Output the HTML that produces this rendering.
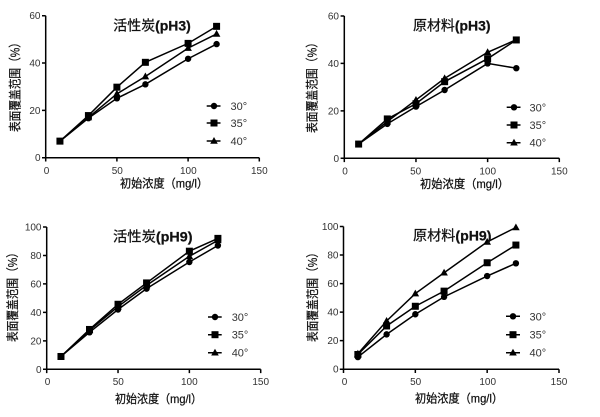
<!DOCTYPE html>
<html><head><meta charset="utf-8"><style>
html,body{margin:0;padding:0;background:#fff;}
svg{display:block;}
.tk{font-family:"Liberation Sans",Arial,sans-serif;font-size:10px;fill:#333;}
.lg{font-family:"Liberation Sans",Arial,sans-serif;font-size:11px;fill:#333;}
.cj{font-family:"Liberation Sans","Noto Sans CJK SC",sans-serif;fill:#111;stroke:#111;stroke-width:0.25px;}
</style></head><body>
<svg width="600" height="417" viewBox="0 0 600 417" xmlns="http://www.w3.org/2000/svg">
<defs>
<circle id="c" r="3.2" fill="#000"/>
<rect id="s" x="-3.5" y="-3.5" width="7" height="7" fill="#000"/>
<polygon id="t" points="0,-4 3.8,2.8 -3.8,2.8" fill="#000"/>
</defs>
<rect width="600" height="417" fill="#fff"/>

<!-- Panel 1 -->
<g stroke="#000" stroke-width="1.5" fill="none">
<path d="M45.7,15.7V157.7H259.3"/>
<path d="M42,157.7H45.7M42,110.4H45.7M42,63H45.7M42,15.7H45.7"/>
<path d="M45.7,157.7V161.5M116.9,157.7V161.5M188.1,157.7V161.5M259.3,157.7V161.5"/>
<polyline points="59.94,141.13 88.42,118.18 116.9,98.3 145.38,84.33 188.1,58.77 216.58,44.1"/>
<polyline points="59.94,141.13 88.42,115.57 116.9,87.17 145.38,62.32 188.1,43.39 216.58,26.35"/>
<polyline points="59.94,141.13 88.42,117.47 116.9,93.8 145.38,76.52 188.1,48.12 216.58,33.92"/>
<path d="M206.7,106H220.5M206.7,123H220.5M206.7,141H220.5"/>
</g>
<g>
<use href="#c" x="59.94" y="141.13"/><use href="#c" x="88.42" y="118.18"/><use href="#c" x="116.9" y="98.3"/><use href="#c" x="145.38" y="84.33"/><use href="#c" x="188.1" y="58.77"/><use href="#c" x="216.58" y="44.1"/>
<use href="#s" x="59.94" y="141.13"/><use href="#s" x="88.42" y="115.57"/><use href="#s" x="116.9" y="87.17"/><use href="#s" x="145.38" y="62.32"/><use href="#s" x="188.1" y="43.39"/><use href="#s" x="216.58" y="26.35"/>
<use href="#t" x="88.42" y="117.47"/><use href="#t" x="116.9" y="93.8"/><use href="#t" x="145.38" y="76.52"/><use href="#t" x="188.1" y="48.12"/><use href="#t" x="216.58" y="33.92"/>
<use href="#c" x="214" y="106"/><use href="#s" x="214" y="123"/><use href="#t" x="214" y="141"/>
</g>
<g class="tk" text-anchor="end">
<text x="40.5" y="161.2">0</text><text x="40.5" y="113.9">20</text><text x="40.5" y="66.5">40</text><text x="40.5" y="19.2">60</text>
</g>
<g class="tk" text-anchor="middle">
<text x="46.5" y="173.8">0</text><text x="117.3" y="173.8">50</text><text x="188.3" y="173.8">100</text><text x="259.3" y="173.8">150</text>
</g>
<g class="lg"><text x="230.5" y="110">30°</text><text x="230.5" y="127">35°</text><text x="230.5" y="145">40°</text></g>
<text class="cj" x="113.3" y="30.5" font-size="14" textLength="77.5" lengthAdjust="spacingAndGlyphs">活性炭<tspan font-weight="bold">(pH3)</tspan></text>
<text class="cj" x="120" y="187.5" font-size="12" textLength="88" lengthAdjust="spacingAndGlyphs">初始浓度（mg/l）</text>
<text class="cj" transform="translate(19.5,132) rotate(-90)" x="0" y="0" font-size="12.5" textLength="95" lengthAdjust="spacingAndGlyphs">表面覆盖范围（%）</text>

<!-- Panel 2 -->
<g stroke="#000" stroke-width="1.5" fill="none">
<path d="M344.3,16V158.3H559.3"/>
<path d="M340.6,158.3H344.3M340.6,110.87H344.3M340.6,63.43H344.3M340.6,16H344.3"/>
<path d="M344.3,158.3V162.1M415.97,158.3V162.1M487.63,158.3V162.1M559.3,158.3V162.1"/>
<polyline points="358.63,144.07 387.3,123.91 415.97,106.6 444.63,90 487.63,63.43 516.3,68.18"/>
<polyline points="358.63,144.07 387.3,118.93 415.97,103.75 444.63,81.69 487.63,58.69 516.3,39.95"/>
<polyline points="358.63,144.07 387.3,121.54 415.97,99.96 444.63,78.37 487.63,52.29 516.3,39.72"/>
<path d="M506.7,107.3H520.5M506.7,125H520.5M506.7,142.7H520.5"/>
</g>
<g>
<use href="#c" x="358.63" y="144.07"/><use href="#c" x="387.3" y="123.91"/><use href="#c" x="415.97" y="106.6"/><use href="#c" x="444.63" y="90"/><use href="#c" x="487.63" y="63.43"/><use href="#c" x="516.3" y="68.18"/>
<use href="#s" x="358.63" y="144.07"/><use href="#s" x="387.3" y="118.93"/><use href="#s" x="415.97" y="103.75"/><use href="#s" x="444.63" y="81.69"/><use href="#s" x="487.63" y="58.69"/><use href="#s" x="516.3" y="39.95"/>
<use href="#t" x="387.3" y="121.54"/><use href="#t" x="415.97" y="99.96"/><use href="#t" x="444.63" y="78.37"/><use href="#t" x="487.63" y="52.29"/>
<use href="#c" x="514" y="107.3"/><use href="#s" x="514" y="125"/><use href="#t" x="514" y="142.7"/>
</g>
<g class="tk" text-anchor="end">
<text x="339" y="161.8">0</text><text x="339" y="114.4">20</text><text x="339" y="66.9">40</text><text x="339" y="19.5">60</text>
</g>
<g class="tk" text-anchor="middle">
<text x="345" y="174.3">0</text><text x="415.7" y="174.3">50</text><text x="487.7" y="174.3">100</text><text x="559.3" y="174.3">150</text>
</g>
<g class="lg"><text x="529.5" y="111.3">30°</text><text x="529.5" y="129">35°</text><text x="529.5" y="146.7">40°</text></g>
<text class="cj" x="413" y="30.5" font-size="14" textLength="77.5" lengthAdjust="spacingAndGlyphs">原材料<tspan font-weight="bold">(pH3)</tspan></text>
<text class="cj" x="420" y="187.8" font-size="12" textLength="89" lengthAdjust="spacingAndGlyphs">初始浓度（mg/l）</text>
<text class="cj" transform="translate(316.5,133) rotate(-90)" x="0" y="0" font-size="12.5" textLength="96" lengthAdjust="spacingAndGlyphs">表面覆盖范围（%）</text>

<!-- Panel 3 -->
<g stroke="#000" stroke-width="1.5" fill="none">
<path d="M46.7,227V369.3H260.7"/>
<path d="M43,369.3H46.7M43,340.84H46.7M43,312.38H46.7M43,283.92H46.7M43,255.46H46.7M43,227H46.7"/>
<path d="M46.7,369.3V373.1M118.03,369.3V373.1M189.37,369.3V373.1M260.7,369.3V373.1"/>
<polyline points="60.97,356.49 89.5,332.3 118.03,309.53 146.57,288.62 189.37,262.01 217.9,245.5"/>
<polyline points="60.97,356.49 89.5,329.46 118.03,304.27 146.57,282.92 189.37,251.19 217.9,238.38"/>
<polyline points="60.97,356.49 89.5,330.31 118.03,306.69 146.57,285.34 189.37,256.31 217.9,240.38"/>
<path d="M208,317H221.7M208,334.7H221.7M208,352.7H221.7"/>
</g>
<g>
<use href="#c" x="60.97" y="356.49"/><use href="#c" x="89.5" y="332.3"/><use href="#c" x="118.03" y="309.53"/><use href="#c" x="146.57" y="288.62"/><use href="#c" x="189.37" y="262.01"/><use href="#c" x="217.9" y="245.5"/>
<use href="#s" x="60.97" y="356.49"/><use href="#s" x="89.5" y="329.46"/><use href="#s" x="118.03" y="304.27"/><use href="#s" x="146.57" y="282.92"/><use href="#s" x="189.37" y="251.19"/><use href="#s" x="217.9" y="238.38"/>
<use href="#t" x="89.5" y="330.31"/><use href="#t" x="118.03" y="306.69"/><use href="#t" x="146.57" y="285.34"/><use href="#t" x="189.37" y="256.31"/><use href="#t" x="217.9" y="240.38"/>
<use href="#c" x="215" y="317"/><use href="#s" x="215" y="334.7"/><use href="#t" x="215" y="352.7"/>
</g>
<g class="tk" text-anchor="end">
<text x="41.5" y="372.8">0</text><text x="41.5" y="344.3">20</text><text x="41.5" y="315.9">40</text><text x="41.5" y="287.4">60</text><text x="41.5" y="259">80</text><text x="41.5" y="230.5">100</text>
</g>
<g class="tk" text-anchor="middle">
<text x="47.5" y="385">0</text><text x="118.3" y="385">50</text><text x="189.3" y="385">100</text><text x="260.7" y="385">150</text>
</g>
<g class="lg"><text x="231.7" y="321">30°</text><text x="231.7" y="338.7">35°</text><text x="231.7" y="356.7">40°</text></g>
<text class="cj" x="113" y="241.5" font-size="14" textLength="79.5" lengthAdjust="spacingAndGlyphs">活性炭<tspan font-weight="bold">(pH9)</tspan></text>
<text class="cj" x="115" y="403" font-size="12" textLength="87" lengthAdjust="spacingAndGlyphs">初始浓度（mg/l）</text>
<text class="cj" transform="translate(17,342) rotate(-90)" x="0" y="0" font-size="12.5" textLength="95" lengthAdjust="spacingAndGlyphs">表面覆盖范围（%）</text>

<!-- Panel 4 -->
<g stroke="#000" stroke-width="1.5" fill="none">
<path d="M343.5,226.5V369.2H559"/>
<path d="M339.8,369.2H343.5M339.8,340.66H343.5M339.8,312.12H343.5M339.8,283.58H343.5M339.8,255.04H343.5M339.8,226.5H343.5"/>
<path d="M343.5,369.2V373M415.33,369.2V373M487.17,369.2V373M559,369.2V373"/>
<polyline points="357.87,357.07 386.6,334.38 415.33,314.26 444.07,296.85 487.17,276.02 515.9,263.32"/>
<polyline points="357.87,354.5 386.6,325.96 415.33,306.27 444.07,291.14 487.17,262.75 515.9,245.05"/>
<polyline points="357.87,353.79 386.6,320.97 415.33,293.57 444.07,272.73 487.17,241.91 515.9,227.5"/>
<path d="M506,316.3H520M506,334.7H520M506,352.7H520"/>
</g>
<g>
<use href="#c" x="357.87" y="357.07"/><use href="#c" x="386.6" y="334.38"/><use href="#c" x="415.33" y="314.26"/><use href="#c" x="444.07" y="296.85"/><use href="#c" x="487.17" y="276.02"/><use href="#c" x="515.9" y="263.32"/>
<use href="#s" x="357.87" y="354.5"/><use href="#s" x="386.6" y="325.96"/><use href="#s" x="415.33" y="306.27"/><use href="#s" x="444.07" y="291.14"/><use href="#s" x="487.17" y="262.75"/><use href="#s" x="515.9" y="245.05"/>
<use href="#t" x="357.87" y="353.79"/><use href="#t" x="386.6" y="320.97"/><use href="#t" x="415.33" y="293.57"/><use href="#t" x="444.07" y="272.73"/><use href="#t" x="487.17" y="241.91"/><use href="#t" x="515.9" y="227.5"/>
<use href="#c" x="513" y="316.3"/><use href="#s" x="513" y="334.7"/><use href="#t" x="513" y="352.7"/>
</g>
<g class="tk" text-anchor="end">
<text x="338.5" y="372.7">0</text><text x="338.5" y="344.2">20</text><text x="338.5" y="315.6">40</text><text x="338.5" y="287.1">60</text><text x="338.5" y="258.5">80</text><text x="338.5" y="230">100</text>
</g>
<g class="tk" text-anchor="middle">
<text x="344.5" y="384.8">0</text><text x="415.7" y="384.8">50</text><text x="487.7" y="384.8">100</text><text x="559" y="384.8">150</text>
</g>
<g class="lg"><text x="529.5" y="320.3">30°</text><text x="529.5" y="338.7">35°</text><text x="529.5" y="356.7">40°</text></g>
<text class="cj" x="413" y="240.5" font-size="14" textLength="78.5" lengthAdjust="spacingAndGlyphs">原材料<tspan font-weight="bold">(pH9)</tspan></text>
<text class="cj" x="415" y="402.5" font-size="12" textLength="88" lengthAdjust="spacingAndGlyphs">初始浓度（mg/l）</text>
<text class="cj" transform="translate(317,342) rotate(-90)" x="0" y="0" font-size="12.5" textLength="95" lengthAdjust="spacingAndGlyphs">表面覆盖范围（%）</text>
</svg>
</body></html>
